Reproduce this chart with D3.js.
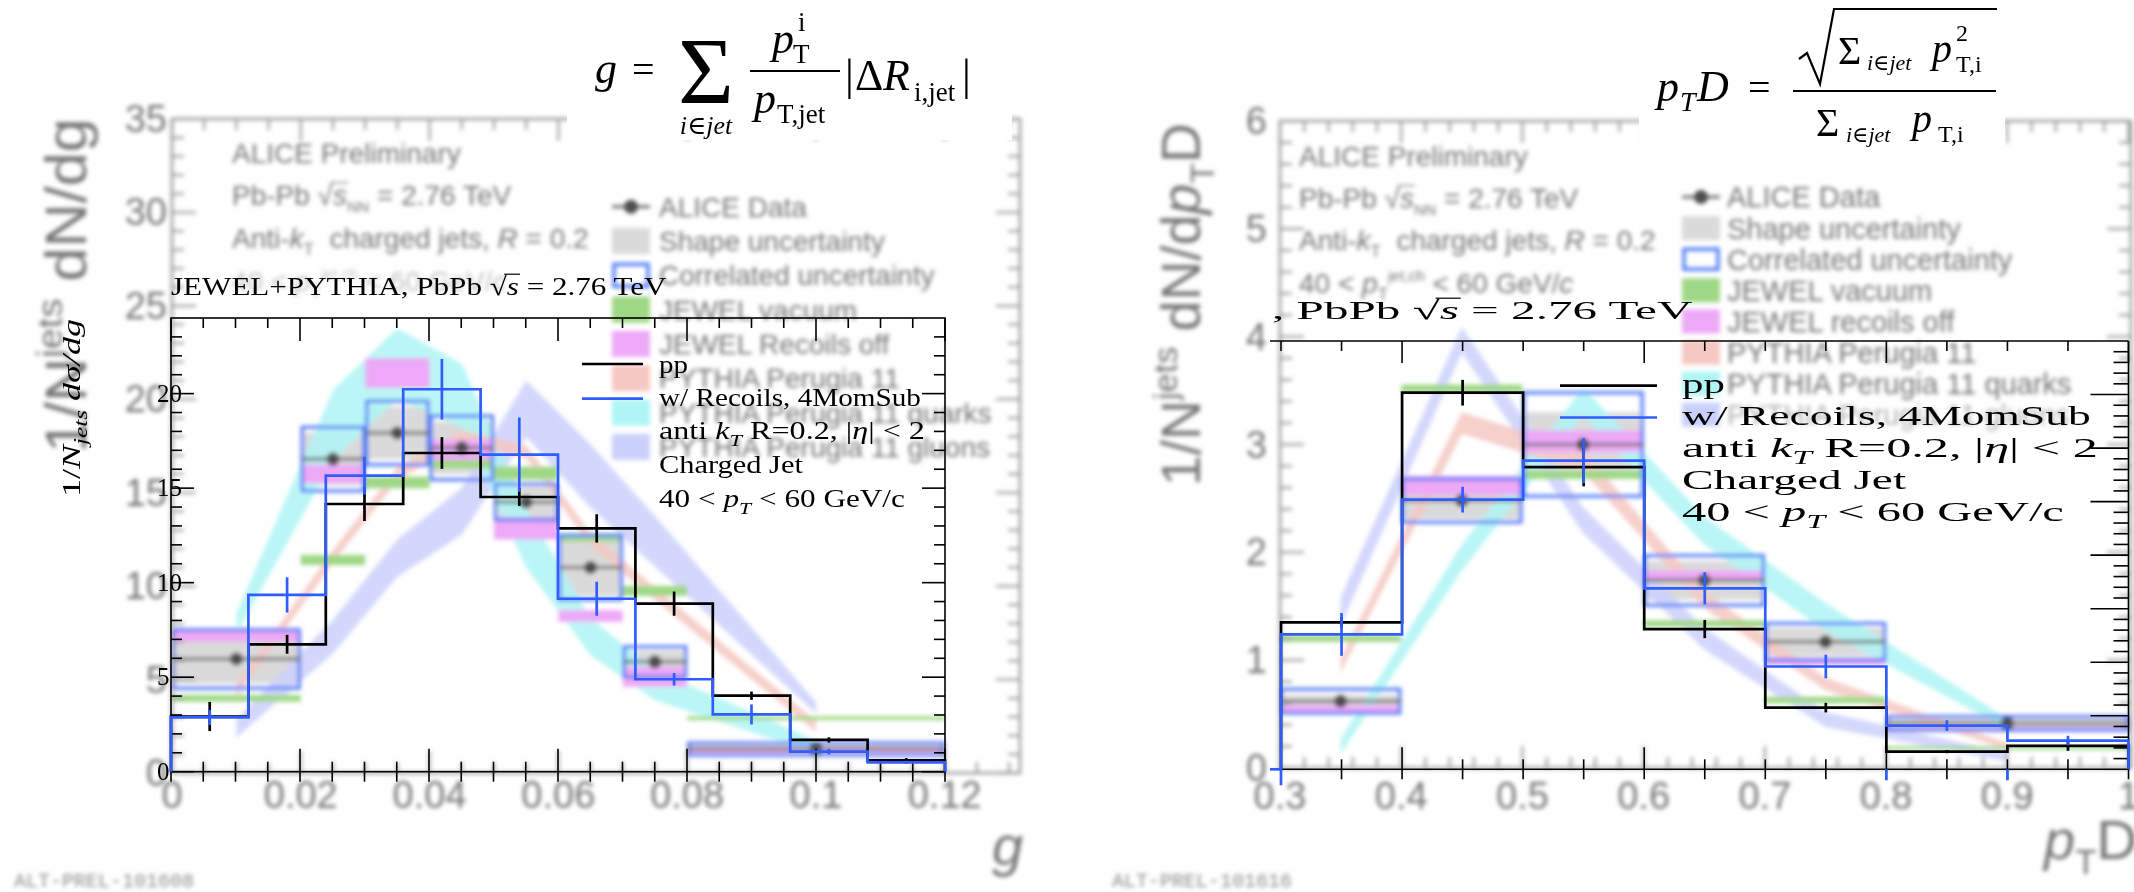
<!DOCTYPE html>
<html><head><meta charset="utf-8">
<script src="https://cdnjs.cloudflare.com/ajax/libs/d3/7.8.5/d3.min.js"></script>
<style>html,body{margin:0;padding:0;background:#fff}svg{display:block}</style>
</head><body>
<svg id="c" width="2134" height="892"></svg>
<script>
// ================= data =================
// --- girth g : JEWEL+PYTHIA simulation (sharp histograms) ---
const gSimEdges = [0, 0.012, 0.024, 0.036, 0.048, 0.06, 0.072, 0.084, 0.096, 0.108, 0.12];
const gPP      = [2.92, 6.74, 14.16, 16.86, 14.53, 12.87, 8.89, 4.02, 1.68, 0.60];
const gPPErr   = [0.77, 0.50, 0.90, 0.84, 0.47, 0.75, 0.64, 0.22, 0.14, 0.12];
const gRec     = [2.87, 9.35, 15.66, 20.23, 16.77, 9.15, 4.89, 3.03, 1.06, 0.49];
const gRecErr  = [0.40, 0.93, 1.00, 1.60, 1.97, 0.90, 0.33, 0.53, 0.15, 0.08];
const gSimTicksY = [0, 5, 10, 15, 20];
// --- girth g : ALICE measurement and model comparison ---
const gDataEdges = [0, 0.02, 0.03, 0.04, 0.05, 0.06, 0.07, 0.08, 0.12];
const gData      = [6.10, 16.80, 18.20, 17.40, 14.50, 11.00, 5.95, 1.28];
const gStat      = [0.20, 0.30, 0.30, 0.30, 0.30, 0.30, 0.20, 0.08];
const gShape     = [1.30, 1.40, 1.40, 1.40, 0.80, 1.50, 0.60, 0.20];
const gCorr      = [1.56, 1.70, 1.70, 1.70, 0.95, 1.72, 0.80, 0.32];
const gJewelVac    = [4.00, 11.40, 15.55, 16.60, 16.05, 12.60, 9.75, 2.93];
const gJewelVacErr = [0.18, 0.27, 0.31, 0.30, 0.35, 0.22, 0.27, 0.10];
const gJewelOff    = [7.38, 16.00, 21.40, 17.30, 13.10, 8.40, 5.15, 1.25];
const gJewelOffErr = [0.36, 0.49, 0.80, 0.55, 0.60, 0.31, 0.53, 0.15];
const gPyX      = [0.01, 0.025, 0.035, 0.045, 0.055, 0.065, 0.075, 0.1];
const gPy       = [4.4, 11.6, 16.0, 18.0, 17.2, 12.5, 9.6, 2.5];
const gPyErr    = [0.35, 0.35, 0.35, 0.35, 0.35, 0.35, 0.35, 0.3];
const gQuark    = [8.0, 18.6, 21.9, 20.2, 12.6, 7.3, 4.7, 1.4];
const gQuarkErr = [0.55, 1.9, 1.9, 1.7, 1.6, 1.0, 0.8, 0.35];
const gGluon    = [2.4, 7.3, 11.5, 14.0, 19.5, 15.9, 12.4, 3.5];
const gGluonErr = [0.5, 0.9, 1.0, 1.25, 1.5, 1.7, 1.35, 0.3];
const gTicksX = [0, 0.02, 0.04, 0.06, 0.08, 0.1, 0.12];
const gTicksY = [0, 5, 10, 15, 20, 25, 30, 35];

// --- pTD : JEWEL+PYTHIA simulation ---
const pSimEdges = [0.3, 0.4, 0.5, 0.6, 0.7, 0.8, 0.9, 1.0];
const pPP     = [1.373, 3.517, 2.823, 1.31, 0.576, 0.165, 0.218];
const pPPErr  = [0.05, 0.12, 0.18, 0.085, 0.045, 0.015, 0.045];
const pRec    = [1.26, 2.518, 2.882, 1.69, 0.96, 0.408, 0.268];
const pRecErr = [0.20, 0.12, 0.21, 0.15, 0.11, 0.05, 0.045];
// --- pTD : ALICE measurement and model comparison ---
const pDataEdges = [0.3, 0.4, 0.5, 0.6, 0.7, 0.8, 1.0];
const pData      = [0.62, 2.48, 3.00, 1.74, 1.17, 0.415];
const pStat      = [0.03, 0.06, 0.06, 0.05, 0.04, 0.02];
const pShape     = [0.06, 0.17, 0.30, 0.18, 0.13, 0.04];
const pCorr      = [0.11, 0.20, 0.48, 0.23, 0.17, 0.062];
const pJewelVac    = [1.20, 3.52, 2.72, 1.34, 0.63, 0.185];
const pJewelVacErr = [0.03, 0.035, 0.04, 0.03, 0.03, 0.015];
const pJewelOff    = [0.55, 2.62, 3.03, 1.78, 0.99, 0.36];
const pJewelOffErr = [0.03, 0.09, 0.10, 0.05, 0.035, 0.02];
const pPyX      = [0.35, 0.45, 0.55, 0.65, 0.75, 0.9];
const pPy       = [0.95, 3.20, 2.85, 1.56, 0.78, 0.20];
const pPyErr    = [0.07, 0.10, 0.10, 0.08, 0.06, 0.03];
const pQuark    = [0.20, 1.95, 3.40, 2.20, 1.40, 0.41];
const pQuarkErr = [0.07, 0.12, 0.13, 0.13, 0.13, 0.05];
const pGluon    = [1.45, 3.97, 2.30, 1.20, 0.45, 0.10];
const pGluonErr = [0.13, 0.12, 0.12, 0.10, 0.07, 0.04];
const pTicksX = [0.3, 0.4, 0.5, 0.6, 0.7, 0.8, 0.9, 1.0];
const pTicksY = [0, 1, 2, 3, 4, 5, 6];

const legendG = ["ALICE Data", "Shape uncertainty", "Correlated uncertainty", "JEWEL vacuum",
  "JEWEL Recoils off", "PYTHIA Perugia 11", "PYTHIA Perugia 11 quarks", "PYTHIA Perugia 11 gluons"];
const legendP = ["ALICE Data", "Shape uncertainty", "Correlated uncertainty", "JEWEL vacuum",
  "JEWEL recoils off", "PYTHIA Perugia 11", "PYTHIA Perugia 11 quarks", "PYTHIA Perugia 11 gluons"];

// ================= drawing helpers =================
const SERIF = "'Liberation Serif','DejaVu Serif',serif";
const SANS = "'Liberation Sans',Arial,sans-serif";
const MONO = "'Liberation Mono','DejaVu Sans Mono',monospace";
const GRAY = "#767676";
const C = {shape: "#dadada", corr: "#4f7cf6", vac: "#9fd885", off: "#eda9f7",
           py: "#f5c8c2", quark: "#aff5f5", gluon: "#cbd0fb", data: "#4d4d4d"};
const BLACK = "#000", BLUE = "#2f5dff";

const svg = d3.select("#c");
svg.append("rect").attr("width", 2134).attr("height", 892).attr("fill", "#fff");
svg.append("defs").append("filter").attr("id", "haze")
  .attr("x", -0.05).attr("y", -0.05).attr("width", 1.1).attr("height", 1.1)
  .append("feGaussianBlur").attr("stdDeviation", 2.2);

// text built from segments: [string, {i: italic, s: 'sub'|'sup', k: size factor, ol: overline}]
function mathText(parent, segs, size, family, fill) {
  const g = parent.append("g");
  const t = g.append("text").attr("font-family", family).attr("font-size", size)
    .attr("fill", fill).style("white-space", "pre");
  let off = 0, idx = 0;
  const marks = [];
  segs.forEach(([str, o = {}]) => {
    const k = o.k || (o.s ? 0.7 : 1);
    const target = o.s === "sub" ? size * 0.26 : o.s === "sup" ? -size * 0.42 : 0;
    const ts = t.append("tspan").text(str).attr("font-size", size * k);
    if (o.i) ts.attr("font-style", "italic");
    if (target !== off) { ts.attr("dy", target - off); off = target; }
    if (o.ol) marks.push(idx);
    idx += str.length;
  });
  return {g, t, marks, size, fill};
}
// place a mathText with its left edge at x and baseline y, optionally squeezed/stretched to width
function place(m, x, y, width, rot) {
  const bb = m.t.node().getBBox();
  const s = width ? width / bb.width : 1;
  m.g.attr("transform", `translate(${x},${y})${rot ? " rotate(-90)" : ""} scale(${s},1) translate(${-bb.x},0)`);
  m.marks.forEach(i => {
    const r = m.t.node().getExtentOfChar(i - 1), c = m.t.node().getExtentOfChar(i);
    const yy = -m.size * 0.8;
    m.g.append("line").attr("x1", r.x + r.width * 0.85).attr("x2", c.x + c.width + 1)
      .attr("y1", yy).attr("y2", yy).attr("stroke", m.fill).attr("stroke-width", Math.max(1.2, m.size * 0.045));
  });
  return m;
}
function txt(parent, x, y, s, size, o = {}) {
  return parent.append("text").attr("x", x).attr("y", y).text(s)
    .attr("font-family", o.f || SERIF).attr("font-size", size)
    .attr("font-style", o.i ? "italic" : "normal")
    .attr("text-anchor", o.a || "start").attr("fill", o.c || BLACK);
}
const isMult = (v, step) => Math.abs(v / step - Math.round(v / step)) < 1e-6;

// ================= ALICE measurement layers (soft) =================
function alicePanel(c) {
  const g = svg.append("g").attr("filter", "url(#haze)");
  const x = c.x, y = c.y;
  const [X0] = x.range(), [Y0, Y1] = y.range();

  // shape uncertainty
  const bins = c.data.map((v, i) => ({x0: c.edges[i], x1: c.edges[i + 1], v, i}));
  g.selectAll(null).data(bins).join("rect")
    .attr("x", d => x(d.x0)).attr("width", d => x(d.x1) - x(d.x0))
    .attr("y", d => y(d.v + c.shape[d.i])).attr("height", d => y(d.v - c.shape[d.i]) - y(d.v + c.shape[d.i]))
    .attr("fill", C.shape);

  // PYTHIA bands
  const band = (vals, errs, fill) => {
    const rows = c.pyX.map((xx, i) => ({x: xx, lo: vals[i] - errs[i], hi: vals[i] + errs[i]}));
    g.append("path").datum(rows)
      .attr("d", d3.area().x(d => x(d.x)).y0(d => y(d.lo)).y1(d => y(d.hi)))
      .attr("fill", fill).attr("fill-opacity", 0.85);
  };
  band(c.gluon, c.gluonErr, C.gluon);
  band(c.quark, c.quarkErr, C.quark);
  band(c.py, c.pyErr, C.py);

  // JEWEL boxes
  const jbox = (vals, errs, fill) => g.selectAll(null).data(vals.map((v, i) => ({v, e: errs[i], i}))).join("rect")
    .attr("x", d => x(c.edges[d.i])).attr("width", d => x(c.edges[d.i + 1]) - x(c.edges[d.i]))
    .attr("y", d => y(d.v + d.e)).attr("height", d => y(d.v - d.e) - y(d.v + d.e)).attr("fill", fill);
  jbox(c.vac, c.vacErr, C.vac);
  jbox(c.off, c.offErr, C.off);

  // correlated uncertainty
  g.selectAll(null).data(bins).join("rect")
    .attr("x", d => x(d.x0) + 1.5).attr("width", d => x(d.x1) - x(d.x0) - 3)
    .attr("y", d => y(d.v + c.corr[d.i])).attr("height", d => y(d.v - c.corr[d.i]) - y(d.v + c.corr[d.i]))
    .attr("fill", "none").attr("stroke", C.corr).attr("stroke-width", 3.2);

  // data points
  g.selectAll(null).data(bins).join("line")
    .attr("x1", d => x(d.x0)).attr("x2", d => x(d.x1)).attr("y1", d => y(d.v)).attr("y2", d => y(d.v))
    .attr("stroke", "#6a6a6a").attr("stroke-width", 3);
  g.selectAll(null).data(bins).join("line")
    .attr("x1", d => x((d.x0 + d.x1) / 2)).attr("x2", d => x((d.x0 + d.x1) / 2))
    .attr("y1", d => y(d.v - c.stat[d.i])).attr("y2", d => y(d.v + c.stat[d.i]))
    .attr("stroke", "#6a6a6a").attr("stroke-width", 3);
  g.selectAll(null).data(bins).join("circle")
    .attr("cx", d => x((d.x0 + d.x1) / 2)).attr("cy", d => y(d.v)).attr("r", 6.5).attr("fill", C.data);

  // frame and ticks
  g.append("rect").attr("x", X0).attr("y", Y1).attr("width", c.frameR - X0).attr("height", Y0 - Y1)
    .attr("fill", "none").attr("stroke", "#9a9a9a").attr("stroke-width", 2.6);
  const xd = x.domain();
  d3.range(xd[0], c.xMax + 1e-9, c.xMinor).forEach(v => {
    const L = isMult(v, c.xMajor) ? 22 : 11;
    const px = x(v);
    if (px > c.frameR) return;
    g.append("line").attr("x1", px).attr("x2", px).attr("y1", Y0).attr("y2", Y0 - L).attr("stroke", "#9a9a9a").attr("stroke-width", 2.2);
    g.append("line").attr("x1", px).attr("x2", px).attr("y1", Y1).attr("y2", Y1 + L).attr("stroke", "#9a9a9a").attr("stroke-width", 2.2);
  });
  d3.range(0, y.domain()[1] + 1e-9, c.yMinor).forEach(v => {
    const L = isMult(v, c.yMajor) ? 24 : 12;
    const py = y(v);
    g.append("line").attr("x1", X0).attr("x2", X0 + L).attr("y1", py).attr("y2", py).attr("stroke", "#9a9a9a").attr("stroke-width", 2.2);
    g.append("line").attr("x1", c.frameR).attr("x2", c.frameR - L).attr("y1", py).attr("y2", py).attr("stroke", "#9a9a9a").attr("stroke-width", 2.2);
  });
  // tick labels
  c.ticksX.forEach(v => txt(g, x(v), c.xLabY, d3.format("~g")(v), 38, {f: SANS, a: "middle", c: GRAY}));
  c.ticksY.forEach(v => txt(g, c.yLabX, y(v) + 13, String(v), 38, {f: SANS, a: "end", c: GRAY}));

  // header text
  c.header.forEach((segs, i) => {
    const m = place(mathText(g, segs, 28, SANS, GRAY), c.headX, c.headY[i]);
    if (i === 3) m.g.attr("opacity", c.lastHeadOpacity);
  });

  // legend
  const L = c.leg;
  c.legendLabels.forEach((lab, i) => {
    const ry = L.y0 + i * L.dy;
    const tt = txt(g, L.tx, ry + L.fs * 0.36, lab, L.fs, {f: SANS, c: GRAY});
    if (i === 7) tt.attr("opacity", L.lastOpacity);
    const sw = {x: L.sx, y: ry - L.sh / 2, width: L.sw, height: L.sh};
    if (i === 0) {
      g.append("line").attr("x1", L.sx).attr("x2", L.sx + L.sw).attr("y1", ry).attr("y2", ry).attr("stroke", "#6a6a6a").attr("stroke-width", 3);
      g.append("circle").attr("cx", L.sx + L.sw / 2).attr("cy", ry).attr("r", 7).attr("fill", C.data);
    } else if (i === 2) {
      g.append("rect").attr("x", sw.x + 2).attr("y", sw.y + 2).attr("width", sw.width - 4).attr("height", sw.height - 4)
        .attr("fill", "none").attr("stroke", C.corr).attr("stroke-width", 3.5);
    } else {
      const fill = [null, C.shape, null, C.vac, C.off, C.py, C.quark, C.gluon][i];
      g.append("rect").attr("x", sw.x).attr("y", sw.y).attr("width", sw.width).attr("height", sw.height).attr("fill", fill);
    }
  });

  // axis titles
  place(mathText(g, c.yTitle, c.yTitleSize, SANS, GRAY), c.yTitleX, c.yTitleBottom, c.yTitleBottom - c.yTitleTop, true);
  place(mathText(g, c.xTitle, 56, SANS, GRAY), c.xTitleX, c.xTitleY);
  txt(g, c.prelX, 887, c.prel, 20, {f: MONO, c: "#8c8c8c"});
  return g;
}

// left: g
alicePanel({
  x: d3.scaleLinear([0, 0.12], [172, 944.7]),
  y: d3.scaleLinear([0, 35], [773, 119]),
  frameR: 1020, xMax: 0.1317, xMinor: 0.005, xMajor: 0.02, yMinor: 1, yMajor: 5,
  edges: gDataEdges, data: gData, stat: gStat, shape: gShape, corr: gCorr,
  vac: gJewelVac, vacErr: gJewelVacErr, off: gJewelOff, offErr: gJewelOffErr,
  pyX: gPyX, py: gPy, pyErr: gPyErr, quark: gQuark, quarkErr: gQuarkErr, gluon: gGluon, gluonErr: gGluonErr,
  ticksX: gTicksX, ticksY: gTicksY, xLabY: 808, yLabX: 167,
  header: [
    [["ALICE Preliminary"]],
    [["Pb-Pb "], ["\u221A"], ["s", {i: 1, ol: 1}], ["NN", {s: "sub", k: 0.55}], [" = 2.76 TeV"]],
    [["Anti-"], ["k", {i: 1}], ["T", {s: "sub", k: 0.6}], ["  charged jets, "], ["R", {i: 1}], [" = 0.2"]],
    [["40 < "], ["p", {i: 1}], ["T", {s: "sub", k: 0.6}], ["jet,ch", {s: "sup", k: 0.55}], [" < 60 GeV/"], ["c", {i: 1}]]
  ],
  headX: 232, headY: [163, 205, 248, 291], lastHeadOpacity: 0.45,
  legendLabels: legendG,
  leg: {y0: 206.7, dy: 34.3, tx: 659, sx: 612, sw: 38, sh: 26, fs: 28, lastOpacity: 1},
  yTitle: [["1/N"], ["jets", {s: "sup", k: 0.62}], [" dN/dg"]], yTitleSize: 58,
  yTitleX: 86, yTitleBottom: 453, yTitleTop: 118,
  xTitle: [["g", {i: 1}]], xTitleX: 992, xTitleY: 865,
  prel: "ALT-PREL-101608", prelX: 14
});

// right: pTD
alicePanel({
  x: d3.scaleLinear([0.3, 1.0], [1280, 2128.5]),
  y: d3.scaleLinear([0, 6], [768, 121]),
  frameR: 2131, xMax: 1.0, xMinor: 0.02, xMajor: 0.1, yMinor: 0.2, yMajor: 1,
  edges: pDataEdges, data: pData, stat: pStat, shape: pShape, corr: pCorr,
  vac: pJewelVac, vacErr: pJewelVacErr, off: pJewelOff, offErr: pJewelOffErr,
  pyX: pPyX, py: pPy, pyErr: pPyErr, quark: pQuark, quarkErr: pQuarkErr, gluon: pGluon, gluonErr: pGluonErr,
  ticksX: pTicksX, ticksY: pTicksY, xLabY: 809, yLabX: 1267,
  header: [
    [["ALICE Preliminary"]],
    [["Pb-Pb "], ["\u221A"], ["s", {i: 1, ol: 1}], ["NN", {s: "sub", k: 0.55}], [" = 2.76 TeV"]],
    [["Anti-"], ["k", {i: 1}], ["T", {s: "sub", k: 0.6}], ["  charged jets, "], ["R", {i: 1}], [" = 0.2"]],
    [["40 < "], ["p", {i: 1}], ["T", {s: "sub", k: 0.6}], ["jet,ch", {s: "sup", k: 0.55}], [" < 60 GeV/"], ["c", {i: 1}]]
  ],
  headX: 1299, headY: [166, 208, 250, 293], lastHeadOpacity: 1,
  legendLabels: legendP,
  leg: {y0: 197, dy: 31.1, tx: 1727, sx: 1682, sw: 38, sh: 24, fs: 29, lastOpacity: 0.55},
  yTitle: [["1/N"], ["jets", {s: "sup", k: 0.62}], [" dN/d"], ["p", {i: 1}], ["T", {s: "sub", k: 0.62}], ["D"]], yTitleSize: 55,
  yTitleX: 1200, yTitleBottom: 486, yTitleTop: 123,
  xTitle: [["p", {i: 1}], ["T", {s: "sub", k: 0.62}], ["D"]], xTitleX: 2042, xTitleY: 859,
  prel: "ALT-PREL-101616", prelX: 1112
});

// ================= formula headers =================
const F = svg.append("g");
F.append("rect").attr("x", 567).attr("y", 0).attr("width", 445).attr("height", 140).attr("fill", "#fff");
F.append("rect").attr("x", 1639).attr("y", 0).attr("width", 366).attr("height", 150).attr("fill", "#fff");
// g = sum p_T^i / p_T,jet |dR|
txt(F, 595, 83, "g", 44, {i: 1});
txt(F, 632, 83, "=", 40);
txt(F, 678, 104, "\u03A3", 96);
txt(F, 706, 134, "i\u2208jet", 26, {i: 1, a: "middle"});
txt(F, 772, 53, "p", 44, {i: 1});
txt(F, 793, 63, "T", 27);
txt(F, 798, 31, "i", 27);
F.append("line").attr("x1", 750).attr("x2", 840).attr("y1", 71).attr("y2", 71).attr("stroke", BLACK).attr("stroke-width", 2.2);
txt(F, 754, 113, "p", 44, {i: 1});
txt(F, 777, 123, "T,jet", 27);
txt(F, 845, 90, "|", 44);
txt(F, 855, 90, "\u0394", 44);
txt(F, 883, 90, "R", 44, {i: 1});
txt(F, 914, 101, "i,jet", 27);
txt(F, 962, 90, "|", 44);
// pTD = sqrt(sum pT^2) / sum pT
txt(F, 1657, 101, "p", 44, {i: 1});
txt(F, 1680, 111, "T", 28, {i: 1});
txt(F, 1697, 101, "D", 44, {i: 1});
txt(F, 1748, 101, "=", 40);
F.append("line").attr("x1", 1793).attr("x2", 1996).attr("y1", 91).attr("y2", 91).attr("stroke", BLACK).attr("stroke-width", 2.2);
F.append("path").attr("d", "M1799,59 L1807,53 L1820,84 L1834,9 L1997,9").attr("fill", "none").attr("stroke", BLACK).attr("stroke-width", 2.2);
txt(F, 1838, 64, "\u03A3", 40);
txt(F, 1867, 70, "i\u2208jet", 22, {i: 1});
txt(F, 1932, 62, "p", 40, {i: 1});
txt(F, 1956, 41, "2", 24);
txt(F, 1956, 72, "T,i", 24);
txt(F, 1816, 136, "\u03A3", 40);
txt(F, 1846, 142, "i\u2208jet", 22, {i: 1});
txt(F, 1912, 132, "p", 40, {i: 1});
txt(F, 1938, 142, "T,i", 24);

// ================= JEWEL+PYTHIA overlays (sharp) =================
function stepPath(edges, vals, x, y) {
  const pts = [[edges[0], 0]];
  vals.forEach((v, i) => { pts.push([edges[i], v]); pts.push([edges[i + 1], v]); });
  pts.push([edges[edges.length - 1], 0]);
  return d3.line().x(d => x(d[0])).y(d => y(d[1]))(pts);
}
function simHists(g, edges, series, x, y) {
  series.forEach(([vals, errs, col]) => {
    g.append("path").attr("d", stepPath(edges, vals, x, y)).attr("fill", "none")
      .attr("stroke", col).attr("stroke-width", 2.7).attr("stroke-linejoin", "miter");
    g.selectAll(null).data(vals.map((v, i) => ({v, e: errs[i], c: (edges[i] + edges[i + 1]) / 2}))).join("line")
      .attr("x1", d => x(d.c)).attr("x2", d => x(d.c)).attr("y1", d => y(d.v - d.e)).attr("y2", d => y(d.v + d.e))
      .attr("stroke", col).attr("stroke-width", 2.7);
  });
}
const tick = (g, x1, y1, x2, y2) => g.append("line").attr("x1", x1).attr("y1", y1).attr("x2", x2).attr("y2", y2)
  .attr("stroke", BLACK).attr("stroke-width", 1.6);

// ---- left overlay ----
{
  const S = svg.append("g");
  const x = d3.scaleLinear([0, 0.12], [171, 945]);
  const y = d3.scaleLinear([0, 24], [771.7, 318]);
  S.append("rect").attr("x", 171).attr("y", 318).attr("width", 774).attr("height", 453.7)
    .attr("fill", "none").attr("stroke", BLACK).attr("stroke-width", 1.6);
  d3.range(0, 0.12 + 1e-9, 0.005).forEach(v => {
    const maj = isMult(v, 0.02);
    tick(S, x(v), y(0) - (maj ? 23 : 10), x(v), y(0) + 10);
    tick(S, x(v), y(24), x(v), y(24) + (maj ? 23 : 10));
  });
  d3.range(0, 24, 1).forEach(v => {
    const L = isMult(v, 5) ? 23 : 11;
    tick(S, 171, y(v), 171 + L, y(v));
    tick(S, 945, y(v), 945 - L, y(v));
  });
  gSimTicksY.forEach(v => txt(S, 157, y(v) + 8, String(v), 25));
  simHists(S, gSimEdges, [[gPP, gPPErr, BLACK], [gRec, gRecErr, BLUE]], x, y);

  tick(S, 582, 364, 643, 364).attr("stroke-width", 2.7);
  tick(S, 582, 398.7, 643, 398.7).attr("stroke", BLUE).attr("stroke-width", 2.7);
  place(mathText(S, [["pp"]], 25, SERIF, BLACK), 659, 373, 29);
  place(mathText(S, [["w/ Recoils, 4MomSub"]], 25, SERIF, BLACK), 659, 406, 262);
  place(mathText(S, [["anti "], ["k", {i: 1}], ["T", {i: 1, s: "sub"}], [" R=0.2, |"], ["\u03B7", {i: 1}], ["| < 2"]], 25, SERIF, BLACK), 659, 439, 266);
  place(mathText(S, [["Charged Jet"]], 25, SERIF, BLACK), 659, 473, 144);
  place(mathText(S, [["40 < "], ["p", {i: 1}], ["T", {i: 1, s: "sub"}], [" < 60 GeV/c"]], 25, SERIF, BLACK), 659, 507, 246);
  place(mathText(S, [["JEWEL+PYTHIA, PbPb "], ["\u221A"], ["s", {i: 1, ol: 1}], [" = 2.76 TeV"]], 26, SERIF, BLACK), 171, 295, 496);
  place(mathText(S, [["1/"], ["N", {i: 1}], ["jets", {i: 1, s: "sub"}], [" "], ["d\u03C3/dg", {i: 1}]], 26, SERIF, BLACK), 80, 497, 178, true);
}

// ---- right overlay ----
{
  const S = svg.append("g");
  const x = d3.scaleLinear([0.3, 1.0], [1281, 2128.5]);
  const y = d3.scaleLinear([0, 4], [769.3, 341]);
  tick(S, 1270, 341, 2128.5, 341);
  tick(S, 2128.5, 341, 2128.5, 769.3);
  tick(S, 1270, 769.3, 2128.5, 769.3);
  d3.range(0.3, 1.0 + 1e-9, 0.05).forEach(v => {
    const maj = isMult(v, 0.2);
    tick(S, x(v), y(0) - (maj ? 22 : 10), x(v), y(0) + 10);
    tick(S, x(v), y(4), x(v), y(4) + (maj ? 22 : 10));
  });
  d3.range(0.1, 4 - 1e-9, 0.1).forEach(v => {
    const L = isMult(v, 0.5) ? 38 : 15;
    tick(S, 2128.5, y(v), 2128.5 - L, y(v));
  });
  simHists(S, pSimEdges, [[pPP, pPPErr, BLACK], [pRec, pRecErr, BLUE]], x, y);
  // histogram lines running past the frame edge
  tick(S, 1270, y(0), x(0.3), y(0)).attr("stroke", BLUE).attr("stroke-width", 2.7);
  [0.3, 0.8, 0.9].forEach(v => tick(S, x(v), y(0), x(v), y(0) + (v === 0.3 ? 16 : 11)).attr("stroke", BLUE).attr("stroke-width", 2.7));

  tick(S, 1560, 385.7, 1657, 385.7).attr("stroke-width", 2.7);
  tick(S, 1560, 417.5, 1657, 417.5).attr("stroke", BLUE).attr("stroke-width", 2.7);
  place(mathText(S, [["pp"]], 27, SERIF, BLACK), 1682, 393, 43);
  place(mathText(S, [["w/ Recoils, 4MomSub"]], 27, SERIF, BLACK), 1682, 425, 409);
  place(mathText(S, [["anti "], ["k", {i: 1}], ["T", {i: 1, s: "sub"}], [" R=0.2, |"], ["\u03B7", {i: 1}], ["| < 2"]], 27, SERIF, BLACK), 1682, 457, 416);
  place(mathText(S, [["Charged Jet"]], 27, SERIF, BLACK), 1682, 488.5, 225);
  place(mathText(S, [["40 < "], ["p", {i: 1}], ["T", {i: 1, s: "sub"}], [" < 60 GeV/c"]], 27, SERIF, BLACK), 1682, 521, 382);
  place(mathText(S, [[", PbPb "], ["\u221A"], ["s", {i: 1, ol: 1}], [" = 2.76 TeV"]], 26, SERIF, BLACK), 1272, 319, 421);
}
</script>
</body></html>
